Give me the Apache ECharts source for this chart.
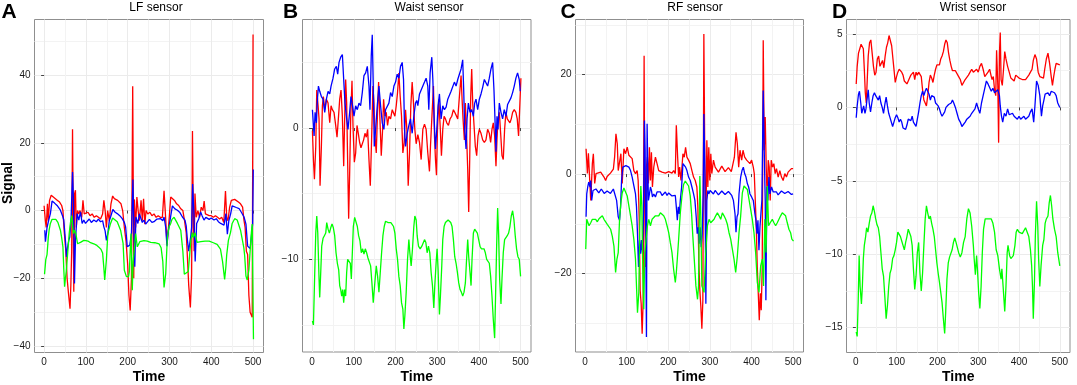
<!DOCTYPE html>
<html><head><meta charset="utf-8">
<script src="https://cdn.jsdelivr.net/npm/echarts@6/dist/echarts.min.js"></script>
<style>html,body{margin:0;padding:0;background:#fff}#c{width:1077px;height:385px}</style>
</head><body><div id="c"></div>
<script>
// ---------------- DATA ----------------
const xTicks = [0, 100, 200, 300, 400, 500];
const lfTicks = [-40, -20, 0, 20, 40];
const waistTicks = [-10, 0];
const rfTicks = [-20, 0, 20];
const wristTicks = [-15, -10, -5, 0, 5];
const titles = ['LF sensor', 'Waist sensor', 'RF sensor', 'Wrist sensor'];
const letters = ['A', 'B', 'C', 'D'];

const lfRed = [[0,1.4],[3,-3],[5,-5],[8,2],[10,-3],[13,3],[17,4.5],[22,4],[27,3.5],[32,3],[37,2.5],[42,1.5],[45,0],[48,-6],[52,-12],[55,-20],[58,-24],[62,-29],[64,-22],[66,-12],[68,24],[69.5,0],[71,-24],[73,5],[75,6],[77,-5],[80,0],[83,-1],[86,0],[90,-2],[93,3],[96,-1],[100,-1.5],[105,-0.5],[110,-1.5],[115,-1],[120,-2],[125,-1.5],[130,-2],[135,-2.5],[140,-1],[143,3],[146,0],[149,-5],[152,0],[156,-3],[160,2],[164,4.3],[168,3.5],[172,3.5],[176,3],[180,2.5],[184,2],[188,0],[192,-5],[196,-9],[200,-16],[203,-25],[206,-29.5],[209,-20],[212,36.7],[214.5,-20],[216,3.3],[219,-5],[222,4],[225,0],[228,-3],[232,3],[235,-3],[238,3.5],[241,-4],[244,0],[248,-1],[253,-0.5],[258,-1.5],[263,-1],[268,-2],[273,-1.5],[278,-2],[283,-2],[287,5.8],[291,-2.6],[294,-10],[298,-4.5],[303,4],[307,3.5],[312,3],[317,2],[322,1.5],[327,0.5],[332,0],[336,-3],[340,-6.5],[343,-14],[346,-22],[350,-28.6],[353,-19],[355,23.5],[357,-1],[359,-12],[361,5],[364,-2],[368,0],[372,-2],[376,1],[380,0],[383,2.8],[386,-1],[390,-1],[395,-1.5],[400,-1.5],[405,-2],[410,-1.5],[415,-2],[420,-2.5],[425,-2],[430,-3.5],[434,5.8],[437,-2],[440,-3],[444,1],[448,3],[452,3.5],[456,3.3],[460,3],[465,2.5],[470,2],[475,1],[478,-2.6],[481,-5],[484,-12],[487,-13],[490,-25],[493,-30],[496,-30.5],[498,-31.5],[500,52]];
const lfBlue = [[1.6,-5.8],[3.2,-9.2],[7,-5],[11,-2.8],[15,-0.9],[19,2.8],[25,2.2],[31,1.5],[39,0.1],[44,-1.5],[47,-2.8],[51,-8.8],[53.5,-13.7],[56,-11],[59,-8.8],[61.5,-7.8],[64.7,-1.9],[68,11.4],[70.3,3],[72.7,-21.5],[75,-8.8],[79,-0.9],[83,-2.8],[87,-0.4],[91,-3.8],[95,-2.8],[99,-3.8],[103,-3.3],[108,-2.5],[113,-3.5],[119,-2.8],[125,-3.3],[130,-2.5],[135,-3.3],[140,-3],[143,-4.8],[146,-6],[149,-8.8],[152.5,-6.8],[156,-3],[159,-1.9],[164.5,0.3],[170,-0.5],[175,-0.9],[181,-1.5],[187,-2.4],[192,-3.5],[195,-4.8],[199,-10.7],[205,-10.2],[209,-6.8],[212.5,9.2],[215,-6.8],[217,-16.6],[219.6,-1.9],[224.4,-3.8],[228,-1],[231,-0.9],[235,-3.5],[239,-2.8],[243,-4],[247,-3.8],[252,-2.6],[258,-3.5],[263,-3.3],[270,-2.5],[279,-2.4],[284,-3],[287,-1.9],[291,-5],[294,-10.5],[297,-6],[299,-4.8],[303,-1.6],[307,1.4],[313,0.5],[319,0.1],[325,-0.6],[331,-1.9],[337,-2.8],[340,-4.5],[343,-8.8],[346,-12],[349,-11.7],[351,-7.5],[353,-5],[355.4,7.8],[358.5,-0.9],[361.5,-15],[365,-3.8],[370,-2.5],[374.6,-0.4],[378,-1.5],[382.6,-2.8],[387,-2],[390.6,-1.9],[395,-2.6],[400,-2.2],[406.6,-2.8],[412,-2.4],[417,-3.3],[422.5,-3.8],[427,-3.6],[430.5,-4.3],[435,-0.9],[438.5,-7],[442,-3],[446.5,-0.9],[450,1.4],[454.5,1.3],[460,0.9],[466.5,0.6],[472,-0.5],[478.4,-1.9],[483,-4],[487,-10.5],[490,-11],[493,-11.2],[496,-10.7],[499,-4],[500.5,12.1]];
const lfGreen = [[1,-18.8],[4,-14.5],[7,-13],[10,-8],[12,-5.8],[15,-3.8],[19,-2.6],[23,-2.2],[28,-2.6],[33,-3.5],[39,-5.8],[42,-8],[45,-10.7],[47,-17],[49,-22.5],[51,-20],[53,-18],[55,-18.5],[57,-18.5],[60,-6.8],[63,-3.6],[66,-1.5],[68,-2],[70,-6.8],[73,-5.8],[76,-6.8],[80,-9.8],[87,-9.4],[95,-8.8],[100,-8.9],[105,-9],[111,-9.5],[119,-9.8],[125,-10.2],[131,-10.8],[136,-11.4],[140,-12.5],[143,-17],[145,-20.5],[149,-14.6],[152.5,-6.8],[159,-3.8],[164,-2.2],[167,-2.1],[175,-3.3],[183,-5.8],[189,-9.7],[192,-17.6],[197,-19.5],[202,-19.5],[204,-18],[206,-11.7],[208,-6.8],[211,-23.5],[213,-15],[215,-12.7],[219,-6.8],[223,-10.7],[229,-9.2],[239,-8.9],[247,-9],[255,-9.4],[265,-9.5],[275,-9.8],[280,-11],[284,-15],[287,-22.7],[291,-18.6],[295,-7.8],[299,-4.8],[303,-3.8],[306,-2.6],[311,-2],[319,-3.8],[327,-5.8],[332,-12],[335.5,-18.8],[340,-19],[345,-18],[349,-12],[351.5,-8.5],[355,-6.5],[357,-8],[361,-6.5],[366,-9.4],[375,-9.2],[385,-9],[395,-9],[405,-9.5],[414,-10],[422,-11.4],[427,-15],[432,-20.3],[435,-16.6],[437,-13],[441,-8.8],[446,-6.5],[450,-3.8],[456,-2.4],[462,-2.8],[470,-5.8],[478,-11],[480,-13.4],[483,-19.3],[486,-20.5],[490,-17.6],[494,-10],[496,-6.5],[498,-4],[500,-4.5],[501,-38]];

const waistRed = [[0.8,-0.2],[3.2,-2.4],[5.6,-3.9],[8.8,-1.4],[11.2,2.9],[14.4,1.7],[16.7,0.7],[19.1,-4.4],[22.3,-1.4],[24.7,1.7],[27.1,2.4],[30.3,1.4],[34.3,2.2],[38.3,1.9],[42.3,0.4],[45.5,1.7],[48.6,1.4],[52.6,1.2],[56.6,0.2],[59.8,-0.7],[63,0.7],[66.2,2.2],[69.4,2.9],[72.6,0.9],[75.8,-2.9],[78.1,0.7],[80.5,3.7],[82.9,1.9],[85.3,-2.6],[87.7,-6.9],[90.1,-3.4],[92.5,0.7],[95.7,3.6],[98.1,0.2],[101.3,-2.6],[104.5,-1.9],[107.7,0.2],[110.8,-0.4],[114,-1.1],[117.2,-1.5],[120.4,-1.4],[123.6,-0.9],[126.8,-0.4],[130,-0.7],[133.2,-0.1],[136.4,-2.4],[139.6,-4.4],[142.7,-0.9],[145.9,3.2],[148.3,1.9],[150.7,-0.6],[153.9,-1.9],[157.1,1.4],[159.5,3.5],[162.7,0.7],[165.9,-2.1],[169.1,-0.1],[171.5,2.2],[174.6,0.9],[177.8,1.2],[181,0.2],[184.2,0.9],[188.2,0.7],[192.2,1.4],[195.4,1.4],[198.6,0.9],[201.8,1.7],[204.9,2.7],[208.1,4.2],[211.3,2.4],[214.5,0.9],[217.7,-1.9],[220.9,-1.1],[224.1,1.4],[227.3,-0.1],[230.5,-4.4],[233.7,-1.9],[236.8,1.7],[240,3.5],[243.2,1.9],[246.4,-0.1],[249.6,-1.2],[253.6,-0.5],[257.6,-1.1],[261.6,-2.4],[265.6,-0.1],[269.6,0.3],[273.5,-0.1],[277.5,-1.9],[281.5,-3.3],[283.9,-1.4],[287.1,0.7],[291.1,3.2],[293.5,-0.6],[295.9,-2.4],[298.3,-3.6],[300.7,-0.1],[303.9,2.2],[307.1,0.2],[310.2,-2.1],[313.4,-0.1],[316.6,0.9],[319.8,0.7],[323,0.4],[327,0.2],[330.9,0.7],[334.9,0.9],[338.9,1.4],[342.1,1.2],[345.3,1.2],[349.3,0.7],[353.3,2.4],[357.3,4],[359.7,2.2],[362,0.7],[365.2,-0.9],[367.6,1.9],[370,-0.1],[373.2,-3.1],[375.6,-6.4],[378,-2.4],[380.4,2.4],[382.8,4.5],[385.2,1.9],[388.4,0.2],[391.5,-1.4],[394.7,-2.1],[397.9,-0.6],[401.1,-0.1],[405.1,-0.4],[409.1,-0.9],[413.1,-1.1],[417,-0.9],[421,-0.1],[425,-0.4],[428.2,-1.1],[431.4,-0.1],[434.6,0.4],[437.8,-0.6],[441,-2.9],[443.4,-0.9],[445.8,0.7],[449,1.2],[452.2,-0.4],[455.4,-2.1],[458.5,-2.4],[461.7,-0.1],[464.9,1.2],[468.1,0.7],[471.3,0.7],[474.5,0.4],[477.7,0.7],[480.9,1.2],[484.8,1.4],[488.8,1.2],[492,0.7],[495.2,-0.6],[498.4,1.9],[500.8,3.8]];
const waistBlue = [[0.8,1.4],[4.8,-0.6],[7.2,1.2],[10.4,0.4],[12.8,2.2],[15.2,3.2],[18.3,2.8],[22.3,2.4],[26.3,2.2],[30.3,1.2],[34.3,2.2],[38.3,2.8],[42.3,2.6],[45.5,3.2],[50.2,3.8],[54.2,4.5],[58.2,4.7],[61.4,4.1],[64.6,5],[68.6,5.4],[72.6,5.6],[75.8,3.7],[78.9,1.9],[82.9,0.7],[86.1,-0.1],[90.1,1.2],[93.3,2.4],[96.5,1.8],[100.5,0.9],[104.5,1.7],[108.5,1.4],[112.4,1.9],[116.4,1.7],[120.4,2.7],[124.4,4],[128.4,4.2],[132.4,4.7],[136.4,3.2],[138.8,1.4],[141.9,5.5],[144.3,7.1],[146.7,3.2],[149.1,-1.4],[152.3,-0.1],[156.3,1.7],[160.3,3.2],[164.3,1.7],[168.3,0.4],[172.2,-0.1],[176.2,1.4],[180.2,1.4],[184.2,1.9],[188.2,2.7],[192.2,2.4],[196.2,3.2],[200.2,3.5],[204.1,4.1],[208.1,3.8],[212.1,4.7],[216.1,5],[219.3,3.7],[221.7,-0.1],[224.1,-1.4],[228.1,-0.4],[232.1,0.2],[236,0.7],[240,-0.4],[244,0.9],[248,1.9],[251,2.1],[253.6,1.7],[257.6,2.6],[261.6,2.9],[265.6,3.2],[269.6,3.5],[273.5,3.8],[277.5,3.2],[279.9,1.4],[283.1,4.2],[287.1,5.4],[289.6,3.7],[292.7,0.7],[295.9,-1.6],[299.1,-0.1],[302.2,1.7],[305.4,2.6],[309.4,0.7],[313.4,1.7],[317.4,1.4],[321.4,1.6],[325.4,2.2],[329.3,2.1],[333.3,2.8],[337.3,2.7],[341.3,3.5],[345.3,3.2],[349.3,3.7],[353.3,3.8],[357.3,4.5],[361.2,5.2],[363.6,2.9],[366,-0.1],[369.2,-1.6],[371.6,0.7],[374.8,1.9],[378.8,1.2],[382.8,1.4],[386.8,0.9],[389.9,1.9],[393.1,2.2],[397.1,1.4],[401.1,2.2],[405.1,2.6],[409.1,3.1],[413.1,3.7],[417,3.6],[421,3.2],[425,3.8],[429,4.5],[433,5],[436.2,2.9],[438.6,0.7],[441,-1.8],[443.4,0.9],[445.8,-0.1],[449,1.9],[453,1.2],[456.9,0.7],[460.9,1.4],[464.9,0.9],[468.9,1.8],[472.9,1.9],[476.9,2.3],[480.9,2.7],[484.8,3.2],[488.8,3.8],[492.8,4.2],[496.8,3.7],[499.2,2.8]];
const waistGreen = [[0.8,-14.7],[3.2,-15],[5.6,-12],[8.8,-8],[11.2,-6.7],[13.6,-8],[16.7,-11.5],[18.3,-12.9],[20.7,-11],[23.1,-9],[26.3,-8.4],[29.5,-8.2],[32.7,-8],[35.1,-7.2],[38.3,-7.7],[41.5,-8],[44.7,-7.6],[47.8,-7.3],[51,-7.6],[54.2,-8.2],[57.4,-9.5],[60.6,-10.3],[63.8,-10.8],[66.2,-12],[68.6,-12.3],[71,-12.8],[73.4,-12.3],[75.8,-13.3],[78.1,-12.3],[80.5,-12.8],[82.9,-11],[85.3,-10],[88.5,-9.9],[91.7,-10.3],[94.1,-11.5],[96.5,-9.5],[98.9,-7.5],[102.1,-6.8],[105.3,-6.7],[108.5,-7.5],[111.6,-8.2],[114.8,-8.6],[118,-9.5],[121.2,-9.2],[124.4,-9.6],[127.6,-9.2],[130.8,-9.5],[134,-9.9],[137.2,-10],[140.4,-10.5],[143.5,-11.8],[146.7,-13.3],[149.9,-12],[153.9,-10.5],[157.1,-11.3],[160.3,-12.5],[163.5,-11],[166.7,-9.5],[169.9,-8.2],[173,-7.5],[176.2,-7.1],[179.4,-7],[182.6,-7.2],[185.8,-7.1],[189,-7.2],[192.2,-7.2],[195.4,-7.5],[198.6,-8],[201.8,-9.2],[204.9,-10],[208.1,-11.3],[211.3,-12],[214.5,-13.3],[217.7,-13.8],[220.1,-15.3],[222.5,-14.3],[225.7,-12.5],[228.9,-10],[232.1,-8.5],[234.4,-9.5],[237.6,-10.5],[240.8,-9.2],[244,-7.5],[246.4,-6.7],[249.6,-7],[252,-8.2],[255.2,-9],[259.2,-9.2],[263.2,-9],[266.4,-9],[269.6,-8.5],[272.7,-8.7],[275.9,-9.5],[279.1,-9],[282.3,-9.5],[285.5,-11],[288.7,-12],[291.9,-13.7],[294.3,-12],[297.4,-10.3],[299.8,-9.2],[302.2,-10.8],[305.4,-14.2],[307.8,-12.8],[311,-10.5],[313.4,-8.5],[316.6,-7.5],[319.8,-7.2],[323,-7.2],[326.2,-7],[329.3,-7.1],[332.5,-7.2],[335.7,-7.5],[338.9,-8.5],[342.1,-9.8],[345.3,-10.3],[348.5,-11],[351.7,-11.8],[354.9,-12.3],[358,-12.5],[361.2,-12.8],[364.4,-12.5],[367.6,-11.8],[370,-10.3],[373.2,-8.5],[375.6,-9.8],[378.8,-11],[381.2,-12],[383.6,-10],[386.8,-8],[389.9,-7.7],[393.1,-7.6],[396.3,-8],[399.5,-8.5],[402.7,-9],[405.9,-9.2],[409.1,-9.1],[412.3,-9.2],[415.5,-9.5],[418.7,-10],[421.8,-10],[425,-10.3],[428.2,-11.3],[431.4,-12.8],[434.6,-14.6],[437.8,-16],[440.2,-12.5],[442.6,-9],[445,-6.1],[447.4,-8.2],[449.8,-11.5],[453,-13.4],[455.4,-11.5],[458.5,-9.5],[461.7,-8.5],[464.9,-8.5],[468.1,-8.2],[471.3,-8],[474.5,-7.5],[477.7,-6.7],[480.9,-6.3],[484.1,-7],[487.2,-8.2],[490.4,-9.2],[493.6,-9.8],[496.8,-10],[500,-11.3]];

const rfRed = [[2.4,5.1],[5.6,0.1],[8,4.2],[11.2,-1.3],[13.6,-5.3],[17.5,2.1],[19.9,4.1],[23.1,-1.9],[26.3,0.1],[31.1,-0.3],[37.5,0.4],[41,0],[45.5,-0.6],[49.4,-1.3],[53,-0.5],[57.4,-0.3],[61,0.2],[65.4,0.4],[68,1],[71,3.4],[74.2,8.1],[77.4,6.1],[79.7,0.7],[83.7,0.4],[86.1,4.1],[89.3,-1.9],[93.3,5.1],[97.3,4.1],[101.3,5.4],[105.3,3.8],[109.3,4.1],[113.2,3.1],[117.2,0.7],[121.2,0.1],[125.2,0.7],[127.6,-1.3],[130,-8.6],[132.4,-23.4],[134.8,-26.1],[137.2,-32.1],[139.6,-25.4],[141.9,23.8],[143.5,-5.3],[145.1,-18.7],[147.5,1.4],[149.9,3.4],[152.3,-1.9],[154.7,5.4],[157.1,-1.3],[159.5,4.4],[161.9,-2.6],[165.1,1.4],[169.1,3.4],[173,2.1],[177,0.7],[181,1.1],[185,0.4],[189,0.7],[193,0.2],[197,0.1],[201,0.5],[204.9,0.4],[208.9,0.2],[212.9,0.7],[216.9,0.1],[219.3,9.8],[222.5,3.4],[224.9,-0.6],[227.3,1.4],[230.5,-1.3],[235.2,4.1],[238.4,3.4],[241.6,5.4],[244.8,3.4],[248.8,2.8],[252.8,2.1],[256.8,0.7],[260.8,-0.6],[264.8,-1.3],[268.7,-2.6],[271.1,-6.6],[273.5,-18],[275.9,-23.4],[278.3,-26.7],[280.7,-31.1],[283.1,-25.4],[285.5,28.2],[287.9,1.4],[290.3,-12],[292.7,6.8],[295.1,-2.6],[297.4,5.4],[299.8,-1.3],[302.2,4.1],[304.6,0.1],[308.6,2.8],[312.6,1.4],[316.6,1.1],[320.6,0.4],[324.6,0.7],[328.6,1.6],[332.5,1.4],[336.5,0.5],[340.5,0.7],[344.5,1.3],[348.5,1.1],[351.5,0.5],[354.9,0.1],[358.9,3.4],[362.8,8.4],[366,6.1],[369.2,1.4],[372.4,4.8],[376.4,2.8],[379.6,4.8],[383.6,3.4],[388.4,2.8],[392.3,3.1],[396.3,2.1],[400.3,2.8],[404.3,1.4],[406.7,0.1],[409.1,-5.3],[411.5,-10.7],[413.9,-18.7],[416.3,-24],[418.7,-29.4],[421.1,-24],[423.4,-27.4],[425.8,-18.7],[428.2,26.9],[430.6,4.8],[433,11.5],[435.4,1.4],[437.8,-5.3],[440.2,2.8],[442.6,1.4],[445,-5.3],[447.4,2.8],[450.6,1.4],[453.7,2.1],[456.9,0.1],[460.1,1.1],[464.1,-0.6],[468.1,0.7],[472.1,-0.6],[476.1,-1.3],[480.1,0.1],[484,-0.6],[488,0.4],[492,0.1],[496,1.1],[500,1.1]];
const rfBlue = [[2.4,-8.6],[4,-4],[6.4,-2.6],[8.8,-1.6],[12,-2.6],[13.6,-1.3],[15.9,-5.3],[19.1,-3.3],[23.1,-3.6],[26,-3],[29.5,-3],[33,-3.8],[35.9,-3.6],[39,-3],[42.3,-3.3],[46,-3.9],[49.4,-4],[53,-3.4],[57.4,-3.3],[61,-3.9],[65.4,-3.6],[68,-3],[71,-3.3],[75.8,-5.3],[79.7,-8.6],[82.9,-9.3],[85.3,-6.6],[87.7,-1.3],[90.9,1.4],[94.9,1.4],[98.1,1.7],[101.3,1.4],[105.3,1.4],[109.3,0.7],[113.2,-0.6],[117.2,-2.3],[121.2,-4],[123.6,-6.6],[126,-12],[128.4,-18.7],[130.8,-13.3],[133.2,-16],[135.6,-13.3],[138,-16],[140.4,-8],[142.7,10.8],[144.3,4.8],[145.9,-12],[147.5,-32.8],[149.1,10.1],[150.7,1.4],[152.3,-5.3],[154.7,-4],[157.1,-2.6],[159.5,-3.3],[161.9,-4.6],[165.1,-4],[169.1,-4.6],[173,-3.6],[177,-4],[181,-3.6],[185,-4.3],[189,-4],[193,-3.6],[197,-4.3],[201,-3.8],[204.9,-4],[208.9,-4.4],[212.9,-4.6],[216.9,-4.3],[219.3,-6.6],[221.7,-9.3],[224.1,-6.6],[226.5,-8],[228.9,-5.3],[232.1,-2.6],[235.2,2.1],[238.4,2.1],[241.6,1.4],[244.8,0.7],[248.8,-0.6],[252.8,-1.3],[256.8,-2.6],[260.8,-4],[264,-5.3],[267.1,-8.6],[269.5,-12],[271.9,-10.7],[274.3,-14],[276.7,-10.7],[279.1,-14.7],[281.5,-12],[283.9,-4],[285.5,12.1],[287.9,1.4],[290.3,-26.1],[292.7,-5.3],[295.1,-3.3],[297.4,-4],[300.6,-3.3],[304.6,-3.6],[308.6,-4],[312.6,-3.3],[316.6,-3.6],[320.6,-4.2],[324.6,-4],[328.6,-3.4],[332.5,-3.6],[336.5,-4.1],[340.5,-4],[344.5,-3.5],[348.5,-3.6],[352.5,-4.3],[356.5,-5.3],[360.4,-8],[362.8,-11.7],[365.2,-8.6],[367.6,-8],[370,-4],[374,-0.6],[377.2,0.7],[380.4,1.4],[383.6,0.1],[386.8,-0.6],[390,-1.9],[393.1,-2.6],[396.3,-4],[400.3,-4.6],[404.3,-5.3],[408.3,-8],[410.7,-9.3],[413.1,-12],[415.5,-9.3],[417.9,-15.3],[420.3,-10.7],[422.6,-8],[425,-5.3],[428.2,16.8],[430.6,4.8],[433,-5.3],[434.6,-25.4],[437,-2.6],[439.4,-5.3],[441.8,-0.6],[444.2,-4],[448.2,-2.6],[452.2,-3.6],[456.1,-4],[460.1,-3.6],[464,-4.2],[468.1,-4],[472,-3.4],[476.1,-3.3],[480,-3.9],[484,-4],[488,-3.5],[492,-3.6],[496,-4.1],[500,-4]];
const rfGreen = [[1.6,-15.1],[4,-9.1],[6.4,-9.1],[9.6,-10.4],[13.6,-9.8],[17.5,-9.1],[21.5,-9.4],[25.5,-9.1],[29.5,-9.6],[33.5,-9],[37.5,-8.6],[41.5,-8.4],[45.5,-9.1],[49.4,-9.4],[53.4,-10.1],[57.4,-10.4],[61.4,-11.1],[65.4,-12.5],[69.4,-14.5],[73.4,-19.8],[76.6,-17.1],[79.7,-15.8],[82.9,-9.1],[86.1,-5.8],[89.3,-3.8],[93.3,-2.8],[97.3,-3.1],[101.3,-4.4],[105.3,-6.4],[109.3,-8.4],[113.2,-10.4],[117.2,-13.1],[121.2,-17.1],[123.6,-22.5],[126,-27.9],[129.2,-23.8],[131.6,-10.4],[134,-2.4],[136.4,-6.4],[138.8,-19.8],[141.1,-27.2],[143.5,-15.8],[146.7,-13.1],[149.9,-10.4],[153.1,-9.1],[157.1,-10.4],[161.1,-9.1],[165.1,-9.4],[169.1,-8.4],[173,-8.8],[177,-8.4],[181,-7.8],[185,-7.4],[189,-8.4],[193,-9.1],[197,-10.4],[201,-11.8],[204.9,-13.8],[208.9,-15.8],[212.9,-19.2],[216.9,-21.8],[219.3,-19.8],[221.7,-17.1],[224.9,-13.1],[228.9,-7.8],[232.9,-4.4],[236.8,-2.1],[240.8,-1.4],[244.8,-1.7],[248.8,-2.4],[252.8,-4.4],[256,-8],[259,-12.5],[262.4,-17.1],[266.4,-22.5],[270.3,-25.2],[272.7,-22.5],[275.9,-0.4],[278.3,-9.1],[280.7,-22.5],[286,-23.8],[290,-15.8],[294,-10.4],[298,-9.1],[302,-9.8],[306,-9.4],[310,-9.1],[314,-8.4],[318,-7.8],[322,-8.4],[326,-9.1],[330,-7.8],[334,-8.4],[338,-9.1],[342,-10.1],[346,-11.8],[350,-13.1],[354,-15.1],[358,-17.1],[362,-19.8],[366,-16.5],[370,-11.8],[374,-8.4],[378,-3.8],[382,-2.4],[386,-2.1],[390,-3.1],[394,-5.1],[398,-7.1],[402,-9.1],[406,-11.8],[410,-15.8],[414,-21.8],[418,-23.8],[422,-18.5],[426,-17.1],[429,-22.5],[432,-9.1],[435,-15.8],[438,-2.4],[441,-10.4],[445,-9.8],[450,-9.1],[454,-9.8],[458,-10.4],[462,-9.8],[466,-9.1],[470,-8.4],[474,-7.8],[478,-7.8],[482,-8.4],[486,-9.8],[490,-11.1],[494,-11.8],[497,-13.1],[501,-13.5]];

const wristRed = [[0.8,1.6],[3.2,2.8],[6.4,3.7],[9.6,4],[12.8,4.3],[15.9,4.4],[18.3,4],[20.7,2.6],[23.1,1],[25.5,0.3],[27.9,1.9],[30.3,3.5],[33.5,4.4],[36.7,4.6],[39.9,3.7],[43.1,2.8],[46.3,2.2],[49.4,2.4],[52.6,3.3],[55.8,3.5],[59,2.8],[62.2,3],[65.4,3.2],[68.6,2.7],[71.8,3.5],[75,4.1],[78.1,4.4],[81.3,4.9],[84.5,5],[87.7,4.2],[90.9,3.3],[94.1,2.4],[96.5,1.7],[99.7,2.1],[102.9,2.4],[106.1,2.6],[109.3,2.7],[112.4,2.4],[115.6,2.2],[118.8,1.8],[122,1.9],[125.2,1.6],[128.4,1.7],[131.6,2],[134.8,2.2],[138,2.1],[141.1,2.4],[144.3,1.9],[147.5,2.4],[150.7,2.2],[153.9,2.4],[157.1,2.5],[160.3,2.1],[163.5,1.2],[166.7,0.5],[169.9,0.3],[173,0.1],[176.2,0.8],[179.4,1.7],[182.6,2.2],[185.8,2],[189,1.7],[192.2,2.2],[195.4,2.6],[198.6,2.9],[201.8,3],[204.9,2.9],[208.1,3.3],[211.3,3.5],[214.5,3.8],[217.7,4.3],[220.9,4.6],[224.1,4.4],[227.3,3.7],[230.5,3.2],[233.7,2.8],[236.8,2.5],[240,2.5],[244,2.5],[248,2.4],[252,2.1],[256,1.9],[260,1.5],[264,1.6],[268,1.9],[272,2],[276,2.2],[280,2.4],[284,2.6],[288,2.4],[292,2.5],[296,2.6],[300,2.4],[304,2.8],[308,3],[312,2.6],[316,2.1],[320,2.2],[324,2.4],[328,2.6],[332,2.1],[334,1.9],[337,2.1],[340,1.2],[343,0.8],[345,3.9],[348,1.5],[350,-2.4],[352,3.7],[354,5.1],[356,1.9],[359,1.5],[362,2.6],[365,3.8],[368,3.3],[372,2.8],[376,2.4],[380,2],[384,1.9],[388,1.8],[392,2.2],[396,2.1],[400,2],[404,2.1],[408,1.9],[412,2],[416,1.9],[420,2],[424,2.2],[428,2.4],[432,2.6],[435,3.2],[439,3.6],[443,3.3],[447,2.4],[451,2.1],[455,2.2],[460,2],[463,2.6],[467,3.3],[471,3.7],[475,3],[479,2.1],[482,1.5],[485,2.1],[488,2.6],[491,3],[495,2.9],[500,2.9]];
const wristBlue = [[0.8,-0.7],[3.2,0.1],[6.4,0.9],[8.8,1.1],[12,0.3],[14.4,-0.4],[16.7,-0.5],[19.1,0.1],[22.3,-0.4],[24.7,-0.1],[27.1,0.5],[30.3,1.2],[32.7,0.3],[35.9,-0.3],[39.1,0.3],[42.3,0.8],[45.5,1],[48.6,0.8],[51.8,0.9],[55,0.5],[58.2,0.8],[61.4,0.3],[64.6,0],[67.8,-0.4],[71,0.2],[74.2,0.7],[77.4,0.1],[80.5,-0.4],[83.7,-0.7],[86.9,-0.6],[90.1,-1.3],[93.3,-1],[96.5,-0.7],[99.7,-0.5],[102.9,-0.7],[106.1,-1],[109.3,-0.8],[112.4,-1],[115.6,-1.4],[118.8,-1.3],[122,-1.5],[125.2,-1.2],[128.4,-0.8],[131.6,-0.7],[134.8,-0.9],[138,-0.6],[141.1,-1],[144.3,-0.9],[147.5,-1.3],[150.7,-0.8],[153.9,-0.3],[157.1,0.3],[160.3,0.8],[163.5,1.1],[166.7,0.8],[169.9,1.1],[173,1.3],[176.2,1.2],[179.4,0.9],[182.6,0.5],[185.8,0.8],[189,0.9],[192.2,0.7],[195.4,0.3],[198.6,0.3],[201.8,0.1],[204.9,-0.1],[208.1,-0.4],[211.3,-0.6],[214.5,-0.5],[217.7,-0.3],[220.9,0],[224.1,-0.1],[227.3,0.2],[230.5,0.1],[233.7,0.3],[236.8,0.5],[240,0.3],[244,0],[248,-0.4],[252,-0.8],[256,-1],[260,-1.3],[264,-1.2],[268,-1],[272,-0.8],[276,-0.9],[280,-0.6],[284,-0.4],[288,-0.5],[292,-0.1],[296,0.3],[300,-0.1],[304,-0.4],[308,0.3],[312,0.8],[316,1.3],[320,1.8],[324,1.6],[328,1.5],[332,1.1],[336,1.3],[340,1],[344,0.9],[348,1.2],[352,0.8],[354,0.1],[357,-0.6],[360,-1],[364,-0.4],[368,-0.6],[372,-0.1],[376,-0.5],[380,-0.6],[384,-0.4],[388,-0.6],[392,-0.7],[396,-0.8],[400,-0.6],[404,-0.8],[408,-0.7],[412,-0.6],[416,-0.8],[420,-0.7],[424,-0.6],[428,-0.3],[432,-0.1],[436,-1],[439,0.1],[443,1.8],[447,1.5],[451,0.8],[455,-0.6],[458,0.1],[461,0.5],[464,0.9],[467,0.9],[471,1],[475,0.8],[479,1.1],[483,1.2],[487,1],[491,0.8],[495,0.3],[500,0]];
const wristGreen = [[0.8,-15.3],[3.2,-15.6],[5.6,-13.3],[8,-10.1],[10.4,-12.2],[13.6,-13.4],[15.9,-12.2],[18.3,-10.3],[20.7,-9.4],[23.9,-8.8],[26.3,-8.2],[29.5,-8.5],[32.7,-7.9],[35.9,-7.4],[39.1,-7.2],[42.3,-6.7],[45.5,-7.1],[48.6,-7.6],[51.8,-8],[55,-8.2],[58.2,-8.8],[61.4,-9.9],[64.6,-11],[67.8,-11.5],[71,-12.9],[74.2,-14.4],[77.4,-13.5],[80.5,-12.2],[83.7,-11.3],[86.9,-11],[90.1,-10.3],[93.3,-10.1],[96.5,-9.7],[99.7,-9.2],[102.9,-8.5],[106.1,-8.4],[109.3,-8.8],[112.4,-9.1],[115.6,-9.4],[118.8,-9.7],[122,-9.2],[125.2,-8.8],[128.4,-8.3],[131.6,-8.4],[134.8,-8.8],[138,-9.4],[141.1,-11],[144.3,-12.4],[147.5,-11.5],[150.7,-9.9],[153.9,-9.2],[157.1,-11.3],[160.3,-12.5],[163.5,-11.3],[166.7,-9.4],[169.9,-7.6],[173,-6.7],[176.2,-7.2],[179.4,-7.6],[182.6,-7.4],[185.8,-7.9],[189,-8.3],[192.2,-8.8],[195.4,-9.7],[198.6,-10.6],[201.8,-11.3],[204.9,-11.9],[208.1,-12],[211.3,-13.3],[214.5,-14.4],[217.7,-15.4],[220.1,-14],[223.3,-11.7],[226.5,-10.6],[229.7,-10.2],[232.9,-10.1],[236,-9.7],[239.2,-9.2],[242.4,-8.9],[245.6,-9.2],[248,-9.2],[252,-9.9],[256,-10.2],[260,-9.9],[264,-9.2],[268,-8.8],[272,-7.6],[276,-6.9],[280,-7.2],[284,-8.1],[288,-9.4],[290,-10.3],[293,-11.4],[296,-10.1],[298,-11],[301,-12.6],[304,-13.7],[307,-12.2],[310,-9.9],[313,-8.3],[317,-7.6],[320,-7.5],[324,-7.6],[328,-7.5],[332,-7.6],[336,-7.9],[340,-8.5],[344,-9.7],[348,-10.1],[352,-11],[356,-11.7],[358,-11],[361,-12.2],[365,-13.9],[368,-12.2],[371,-9.9],[373,-9.4],[377,-10.1],[380,-10.3],[383,-10.2],[386,-10.1],[390,-9.4],[393,-8.5],[396,-8.3],[400,-8.5],[404,-8.4],[408,-8.6],[412,-8.5],[416,-8.2],[420,-8.1],[424,-8.8],[428,-9.7],[431,-10.8],[433,-12.2],[435,-14.4],[438,-11.7],[440,-8.8],[443,-6.4],[446,-8.1],[448,-10.3],[451,-12.2],[454,-10.8],[458,-9.4],[461,-9],[464,-7.9],[467,-7.6],[471,-7.4],[474,-6.5],[477,-6],[480,-6.7],[483,-7.6],[487,-8.3],[491,-8.8],[495,-9.9],[500,-10.8]];

// ---------------- LAYOUT ----------------
const FONT = 'Liberation Sans, Arial, Helvetica, sans-serif';
const panels = [
  {red: lfRed, blue: lfBlue, green: lfGreen, ticks: lfTicks, grid: {left: 34.5, top: 19.5, width: 229, height: 333}, yMin: -41.9, yMax: 56.4, ySplit: 5, titleX: 156, letterX: 9},
  {red: waistRed, blue: waistBlue, green: waistGreen, ticks: waistTicks, grid: {left: 302.5, top: 19.5, width: 228.5, height: 332.5}, yMin: -17.06, yMax: 8.27, ySplit: 3, titleX: 429, letterX: 290.5},
  {red: rfRed, blue: rfBlue, green: rfGreen, ticks: rfTicks, grid: {left: 575.5, top: 19.5, width: 228, height: 332.5}, yMin: -35.8, yMax: 31.1, ySplit: 3, titleX: 695, letterX: 568},
  {red: wristRed, blue: wristBlue, green: wristGreen, ticks: wristTicks, grid: {left: 846.5, top: 19.5, width: 223.5, height: 333}, yMin: -16.7, yMax: 5.99, ySplit: 5, titleX: 973, letterX: 839.5}
];
const fmt = v => String(v).replace('-', '\u2212');
const grid = [], xAxis = [], yAxis = [], series = [], graphic = [];
panels.forEach((p, i) => {
  grid.push(Object.assign({show: true, borderColor: '#8f8f8f', borderWidth: 1, backgroundColor: '#fff', containLabel: false}, p.grid));
  const common = {
    gridIndex: i, type: 'value',
    axisLine: {show: false},
    minorTick: {show: false, splitNumber: 2},
    splitLine: {show: true, lineStyle: {color: '#ebebeb', width: 1}},
    minorSplitLine: {show: true, lineStyle: {color: '#f3f3f3', width: 1}}
  };
  xAxis.push(Object.assign({}, common, {
    min: -23, max: 525, splitNumber: 5,
    axisTick: {show: true, length: 3, lineStyle: {color: '#444'}, customValues: xTicks},
    axisLabel: {customValues: xTicks, fontSize: 10, color: '#1a1a1a', margin: 5, fontFamily: FONT, formatter: fmt, showMinLabel: true, showMaxLabel: true}
  }));
  yAxis.push(Object.assign({}, common, {
    min: p.yMin, max: p.yMax, splitNumber: p.ySplit,
    axisTick: {show: true, length: 3, lineStyle: {color: '#444'}, customValues: p.ticks},
    axisLabel: {customValues: p.ticks, fontSize: 10, color: '#1a1a1a', margin: 4, fontFamily: FONT, formatter: fmt, showMinLabel: true, showMaxLabel: true}
  }));
  [['red', '#ff0000'], ['blue', '#0000ff'], ['green', '#00ff00']].forEach(([k, c]) => {
    series.push({type: 'line', xAxisIndex: i, yAxisIndex: i, data: p[k], showSymbol: false, symbol: 'none',
      lineStyle: {color: c, width: 1.3}, itemStyle: {color: c}, animation: false, silent: true});
  });
  const cx = p.grid.left + p.grid.width / 2;
  graphic.push({type: 'text', x: p.titleX, y: 8, style: {text: titles[i], textAlign: 'center', textVerticalAlign: 'middle', font: '12px ' + FONT, fill: '#000'}});
  graphic.push({type: 'text', x: p.letterX, y: 12.5, style: {text: letters[i], textAlign: 'center', textVerticalAlign: 'middle', font: 'bold 21px ' + FONT, fill: '#000'}});
  graphic.push({type: 'text', x: cx, y: 377.5, style: {text: 'Time', textAlign: 'center', textVerticalAlign: 'middle', font: 'bold 14px ' + FONT, fill: '#000'}});
});
graphic.push({type: 'text', x: 8, y: 183, rotation: Math.PI / 2, style: {text: 'Signal', textAlign: 'center', textVerticalAlign: 'middle', font: 'bold 14px ' + FONT, fill: '#000'}});

const chart = echarts.init(document.getElementById('c'), null, {renderer: 'canvas'});
chart.setOption({animation: false, backgroundColor: '#fff', grid, xAxis, yAxis, series, graphic});
</script></body></html>
